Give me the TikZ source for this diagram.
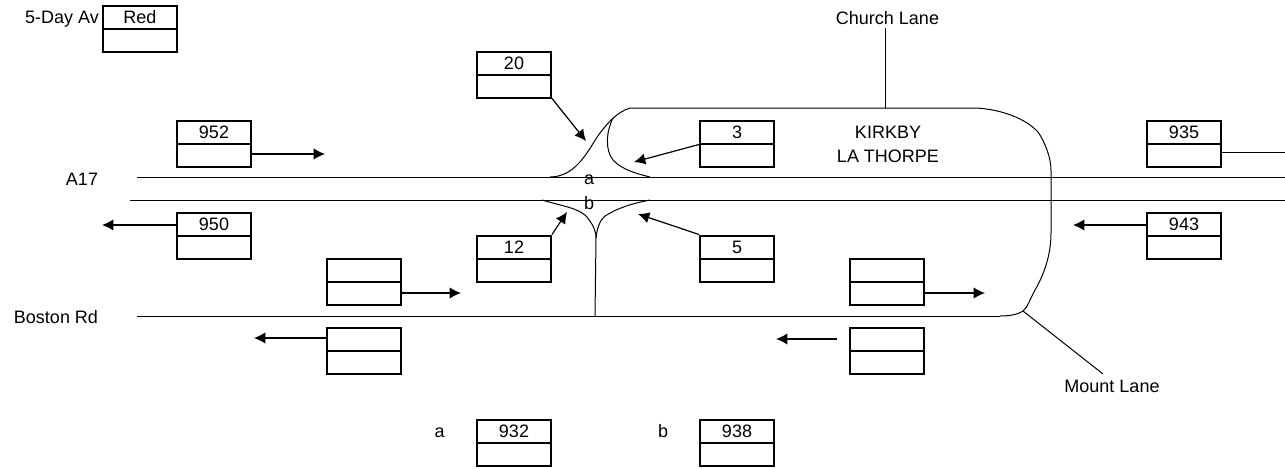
\documentclass[tikz,border=0pt]{standalone}
\usepackage{fontspec}
\setmainfont{Liberation Sans}
\usetikzlibrary{arrows.meta}

\begin{document}
\begin{tikzpicture}[
  x=0.75pt,
  y=-0.75pt,
  node distance=17.25pt
]

  \tikzstyle{cellnode}=[draw,rectangle,line width=1.5pt,minimum height=17.25pt,minimum width=55.5pt,inner sep=0pt,font=\fontsize{13.5pt}{18pt}\selectfont]
  \tikzstyle{textnode}=[inner sep=0pt,font=\fontsize{13.5pt}{18pt}\selectfont,align=center]
  \tikzstyle{road}=[draw,line width=0.75pt]
  \tikzstyle{pointer}=[draw,line width=0.9pt,-{Latex[length=8.5pt,width=8.5pt]}]
  \tikzstyle{leader}=[draw,line width=0.75pt]

  \useasboundingbox (0,0) rectangle (1285,468);

  % roads
  \coordinate (a17top1) at (137,177);
  \coordinate (a17top2) at (1285,177);
  \coordinate (a17bot1) at (130,200);
  \coordinate (a17bot2) at (1285,200);
  \coordinate (bostonw) at (137,316);
  \coordinate (bostone) at (1000,316);
  \coordinate (churchtop) at (885,28);
  \coordinate (churchbot) at (885,108);
  \coordinate (mountend) at (1023,311);
  \coordinate (mountlab) at (1103,374);
  \draw[road] (a17top1) -- (a17top2);
  \draw[road] (a17bot1) -- (a17bot2);
  \draw[road] (bostonw) -- (bostone);
  \draw[road] (550,177) .. controls (578,177) and (590,146) .. (600,133)
    .. controls (610,120) and (618,112) .. (630,108) -- (975,108)
    .. controls (1000,109) and (1025,118) .. (1038,132)
    .. controls (1045,142) and (1051,158) .. (1051,170) -- (1051,233)
    .. controls (1051,258) and (1042,278) .. (1035,290)
    .. controls (1030,299) and (1028,307) .. (1023,311)
    .. controls (1017,315) and (1008,316) .. (bostone);
  \draw[road] (613,118) .. controls (606,132) and (605,150) .. (613,160)
    .. controls (622,170) and (638,174) .. (650,177);
  \draw[road] (542,200) .. controls (562,206) and (578,208) .. (586,216)
    .. controls (592,223) and (596,230) .. (596,238) -- (595,316);
  \draw[road] (650,200) .. controls (630,204) and (618,208) .. (605,216)
    .. controls (600,220) and (597,228) .. (596,238);

  % nodes
  \node[cellnode] (red) at (140,17) {Red};
  \node[cellnode] (redb) [below of=red] {};
  \node[cellnode] (n20) at (514,63) {20};
  \node[cellnode] (n20b) [below of=n20] {};
  \node[cellnode] (n952) at (214,132) {952};
  \node[cellnode] (n952b) [below of=n952] {};
  \node[cellnode] (n3) at (737,132) {3};
  \node[cellnode] (n3b) [below of=n3] {};
  \node[cellnode] (n935) at (1184,132) {935};
  \node[cellnode] (n935b) [below of=n935] {};
  \node[cellnode] (n950) at (214,224) {950};
  \node[cellnode] (n950b) [below of=n950] {};
  \node[cellnode] (n12) at (514,247) {12};
  \node[cellnode] (n12b) [below of=n12] {};
  \node[cellnode] (n5) at (737,247) {5};
  \node[cellnode] (n5b) [below of=n5] {};
  \node[cellnode] (n943) at (1184,224) {943};
  \node[cellnode] (n943b) [below of=n943] {};
  \node[cellnode] (wup) at (364,270) {};
  \node[cellnode] (wupb) [below of=wup] {};
  \node[cellnode] (wdn) at (364,339) {};
  \node[cellnode] (wdnb) [below of=wdn] {};
  \node[cellnode] (eup) at (887,270) {};
  \node[cellnode] (eupb) [below of=eup] {};
  \node[cellnode] (edn) at (887,339) {};
  \node[cellnode] (ednb) [below of=edn] {};
  \node[cellnode] (n932) at (514,431) {932};
  \node[cellnode] (n932b) [below of=n932] {};
  \node[cellnode] (n938) at (737,431) {938};
  \node[cellnode] (n938b) [below of=n938] {};

  \node[textnode] (fiveday) at (62,19.5) {5-Day Av};
  \node[textnode] (church) at (887.5,18) {Church Lane};
  \node[textnode] (kirkby) at (888,144) {KIRKBY\\LA THORPE};
  \node[textnode] (a17) at (82,179) {A17};
  \node[textnode] (boston) at (56,317) {Boston Rd};
  \node[textnode] (mount) at (1112,386) {Mount Lane};
  \node[textnode] (sa) at (589,180) {a};
  \node[textnode] (sb) at (589,203) {b};
  \node[textnode] (laba) at (439.5,433) {a};
  \node[textnode] (labb) at (663,431) {b};

  % arrow ends
  \coordinate (p952) at (325,154);
  \coordinate (p950) at (102,225);
  \coordinate (p943) at (1073,225);
  \coordinate (p935) at (1285,152);
  \coordinate (p20) at (586,141);
  \coordinate (p3) at (634,162);
  \coordinate (p12) at (567,212);
  \coordinate (p5) at (638,214);
  \coordinate (pwup) at (461,293);
  \coordinate (pwdn) at (254,338);
  \coordinate (peup) at (985,293);
  \coordinate (pedns) at (837,339);
  \coordinate (pedn) at (776,339);

  % pointers
  \draw[pointer] (n952b.east |- p952) -- (p952);
  \draw[pointer] (n950.west |- p950) -- (p950);
  \draw[pointer] (n943.west |- p943) -- (p943);
  \draw[leader] (n935b.east |- p935) -- (p935);
  \draw[pointer] (n20b.south east) -- (p20);
  \draw[pointer] (n3.south west) -- (p3);
  \draw[pointer] (n12.north east) -- (p12);
  \draw[pointer] (n5.north west) -- (p5);
  \draw[pointer] (wupb.east |- pwup) -- (pwup);
  \draw[pointer] (wdn.west |- pwdn) -- (pwdn);
  \draw[pointer] (eupb.east |- peup) -- (peup);
  \draw[pointer] (pedns) -- (pedn);

  \draw[leader] (churchtop) -- (churchbot);
  \draw[leader] (mountend) -- (mountlab);

\end{tikzpicture}
\end{document}
